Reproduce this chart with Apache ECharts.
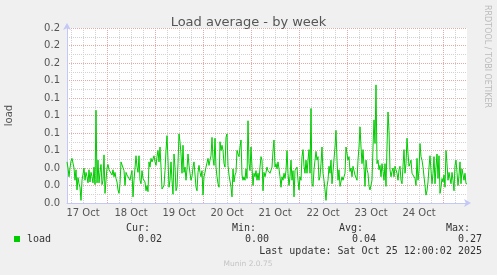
<!DOCTYPE html>
<html><head><meta charset="utf-8">
<script src="https://cdn.jsdelivr.net/npm/echarts@6/dist/echarts.min.js"></script>
<style>html,body{margin:0;padding:0;background:#f0f0f0;}#c{width:497px;height:275px;}</style>
</head><body><div id="c"></div>
<script>
// hours after 17 Oct 00:00 of the first sample, one sample per 30 minutes
const startHour = 4;
const stepHours = 0.5;
const loadValues = [
 0.047,0.040,0.030,0.040,0.048,0.051,0.051,0.040,0.026,0.038,
 0.015,0.029,0.022,0.018,0.003,0.026,0.033,0.040,0.026,0.035,
 0.030,0.023,0.038,0.024,0.035,0.030,0.023,0.041,0.021,0.106,
 0.023,0.049,0.023,0.035,0.044,0.021,0.026,0.055,0.011,0.026,
 0.040,0.044,0.038,0.040,0.036,0.032,0.038,0.030,0.035,0.028,
 0.024,0.015,0.011,0.022,0.047,0.045,0.045,0.037,0.020,0.035,
 0.032,0.030,0.032,0.026,0.032,0.037,0.007,0.026,0.024,0.054,
 0.041,0.035,0.054,0.026,0.022,0.037,0.028,0.026,0.024,0.014,
 0.020,0.013,0.047,0.041,0.051,0.047,0.045,0.054,0.047,0.043,
 0.053,0.060,0.047,0.064,0.041,0.016,0.014,0.020,0.037,0.060,
 0.077,0.049,0.018,0.026,0.047,0.026,0.010,0.056,0.041,0.014,
 0.018,0.045,0.079,0.070,0.056,0.034,0.066,0.035,0.041,0.026,
 0.039,0.056,0.043,0.034,0.026,0.030,0.041,0.047,0.045,0.018,
 0.014,0.035,0.043,0.035,0.030,0.037,0.009,0.030,0.035,0.041,
 0.039,0.051,0.043,0.049,0.054,0.075,0.051,0.043,0.074,0.041,
 0.030,0.022,0.018,0.070,0.060,0.066,0.060,0.045,0.041,0.075,
 0.079,0.043,0.032,0.030,0.018,0.007,0.039,0.024,0.032,0.035,
 0.060,0.056,0.053,0.064,0.072,0.032,0.026,0.030,0.026,0.039,
 0.028,0.094,0.045,0.037,0.064,0.041,0.020,0.034,0.030,0.037,
 0.026,0.034,0.026,0.041,0.053,0.049,0.014,0.035,0.030,0.035,
 0.041,0.037,0.035,0.034,0.032,0.041,0.060,0.072,0.041,0.045,
 0.039,0.047,0.039,0.030,0.018,0.030,0.026,0.034,0.028,0.037,
 0.060,0.034,0.020,0.030,0.049,0.026,0.037,0.007,0.037,0.039,
 0.041,0.026,0.015,0.030,0.026,0.053,0.061,0.042,0.034,0.049,
 0.034,0.049,0.061,0.034,0.108,0.022,0.019,0.038,0.049,0.059,
 0.049,0.053,0.026,0.030,0.045,0.064,0.034,0.026,0.015,0.003,
 0.019,0.026,0.042,0.034,0.049,0.022,0.036,0.038,0.064,0.083,
 0.049,0.026,0.038,0.019,0.017,0.030,0.026,0.030,0.034,0.064,
 0.066,0.049,0.053,0.036,0.040,0.030,0.042,0.040,0.032,0.030,
 0.026,0.049,0.064,0.087,0.064,0.045,0.061,0.042,0.019,0.049,
 0.038,0.034,0.019,0.015,0.015,0.026,0.064,0.095,0.068,0.135,
 0.045,0.049,0.038,0.043,0.030,0.045,0.036,0.026,0.045,0.019,
 0.064,0.104,0.083,0.038,0.030,0.036,0.040,0.030,0.042,0.038,
 0.034,0.026,0.038,0.042,0.026,0.022,0.042,0.061,0.034,0.045,
 0.074,0.057,0.042,0.045,0.049,0.034,0.036,0.035,0.028,0.020,
 0.051,0.026,0.037,0.068,0.053,0.049,0.041,0.041,0.043,0.009,
 0.014,0.024,0.041,0.054,0.037,0.022,0.034,0.053,0.022,0.041,
 0.056,0.028,0.054,0.011,0.018,0.028,0.024,0.032,0.018,0.060,
 0.045,0.026,0.035,0.034,0.022,0.035,0.026,0.014,0.043,0.049,
 0.035,0.020,0.032,0.047,0.022,0.039,0.037,0.026,0.034,0.022,
 0.022
];
const dayLabels = ['17 Oct','18 Oct','19 Oct','20 Oct','21 Oct','22 Oct','23 Oct','24 Oct'];
// hour (after 17 Oct 00:00) of each day's noon label, midnights and 6-hour grid
const dayLabelHours = [12, 36, 60, 84, 108, 132, 156, 180];
const midnightHours = [24, 48, 72, 96, 120, 144, 168, 192];
const sixHourGrid = [6,12,18,24,30,36,42,48,54,60,66,72,78,84,90,96,102,108,114,120,
  126,132,138,144,150,156,162,168,174,180,186,192,198];
const yTickLabels = ['0.0','0.0','0.0','0.1','0.1','0.1','0.1','0.1','0.2','0.2','0.2'];
const statHeaders = ['Cur:','Min:','Avg:','Max:'];
const statValues = ['0.02','0.00','0.04','0.27'];
const seriesName = 'load';
const titleText = 'Load average - by week';
const lastUpdate = 'Last update: Sat Oct 25 12:00:02 2025';
const vLabel = 'load';
const sideText = 'RRDTOOL / TOBI OETIKER';
const footerText = 'Munin 2.0.75';

const seriesData = loadValues.map((v, i) => [startHour + i * stepHours, v]);
const xMin = 4, xMax = 204;

const chart = echarts.init(document.getElementById('c'), null, {renderer: 'canvas'});
const AX = '#c4c8f4';
const RED = '#e8a8a8';
const GRAY = '#d2d2d2';
const SANS = 'DejaVu Sans';
const MONO = 'DejaVu Sans Mono';
const hidden = {show: false};

const statX = [150, 256, 363, 470];
const valX = [162, 269, 376, 482];
const graphics = [
  {type: 'text', x: 9, y: 115.5, rotation: Math.PI / 2,
   style: {text: vLabel, font: '10px ' + SANS, fill: '#555', align: 'center', verticalAlign: 'middle'}},
  {type: 'text', x: 487, y: 5, rotation: -Math.PI / 2,
   style: {text: sideText, font: '8px ' + SANS, fill: '#bbbbbb', align: 'left', verticalAlign: 'middle'}},
  {type: 'rect', shape: {x: 14, y: 236, width: 6, height: 6}, style: {fill: '#00cc00'}},
  {type: 'text', x: 27, y: 239.5,
   style: {text: seriesName, font: '10px ' + MONO, fill: '#333', align: 'left', verticalAlign: 'middle'}},
  {type: 'text', x: 482, y: 251,
   style: {text: lastUpdate, font: '10px ' + MONO, fill: '#333', align: 'right', verticalAlign: 'middle'}},
  {type: 'text', x: 248, y: 264.5,
   style: {text: footerText, font: '7.5px ' + SANS, fill: '#c4c4c4', align: 'center', verticalAlign: 'middle'}}
];
statHeaders.forEach((h, i) => graphics.push({type: 'text', x: statX[i], y: 228.5,
  style: {text: h, font: '10px ' + MONO, fill: '#333', align: 'right', verticalAlign: 'middle'}}));
statValues.forEach((v, i) => graphics.push({type: 'text', x: valX[i], y: 239.5,
  style: {text: v, font: '10px ' + MONO, fill: '#333', align: 'right', verticalAlign: 'middle'}}));

chart.setOption({
  backgroundColor: '#f0f0f0',
  animation: false,
  title: {text: titleText, left: 'center', top: 11,
    textStyle: {fontFamily: SANS, fontSize: 13, fontWeight: 'normal', color: '#555'}},
  grid: {left: 67, right: 30, top: 28, bottom: 72, show: true, backgroundColor: '#ffffff', borderWidth: 0},
  xAxis: [
    {type: 'value', min: xMin, max: xMax, position: 'bottom',
     axisLine: hidden, axisLabel: hidden,
     axisTick: {show: false, customValues: sixHourGrid},
     splitLine: {show: true, lineStyle: {color: GRAY, type: [1, 1], width: 1}}},
    {type: 'value', min: xMin, max: xMax, position: 'bottom', z: 1,
     axisLine: {show: true, lineStyle: {color: AX, width: 1}, symbol: ['none', 'arrow'], symbolSize: [6, 7], symbolOffset: [0, 4]},
     axisTick: {show: false, customValues: midnightHours},
     axisLabel: {show: true, customValues: dayLabelHours, margin: 5,
       fontFamily: SANS, fontSize: 10, color: '#555',
       formatter: v => dayLabels[dayLabelHours.indexOf(v)] || ''},
     splitLine: {show: true, lineStyle: {color: RED, type: [1, 1], width: 1}}}
  ],
  yAxis: [
    {type: 'value', min: 0, max: 0.2, interval: 0.01, position: 'left',
     axisLine: hidden, axisTick: hidden, axisLabel: hidden,
     splitLine: {show: true, showMinLine: false, showMaxLine: false, lineStyle: {color: GRAY, type: [1, 1], width: 1}}},
    {type: 'value', min: 0, max: 0.2, interval: 0.02, position: 'left', z: 1,
     axisLine: {show: true, lineStyle: {color: AX, width: 1}, symbol: ['none', 'arrow'], symbolSize: [6, 7], symbolOffset: [0, 5]},
     axisTick: hidden,
     axisLabel: {margin: 7, fontFamily: SANS, fontSize: 10, color: '#555',
       formatter: v => yTickLabels[Math.round(v / 0.02)]},
     splitLine: {show: true, showMinLine: false, lineStyle: {color: RED, type: [1, 1], width: 1}}}
  ],
  series: [{
    name: seriesName, type: 'line', xAxisIndex: 1, yAxisIndex: 1,
    data: seriesData, showSymbol: false, symbol: 'none',
    lineStyle: {color: '#00cc00', width: 1}, z: 3
  }],
  graphic: graphics
});
</script>
</body></html>
